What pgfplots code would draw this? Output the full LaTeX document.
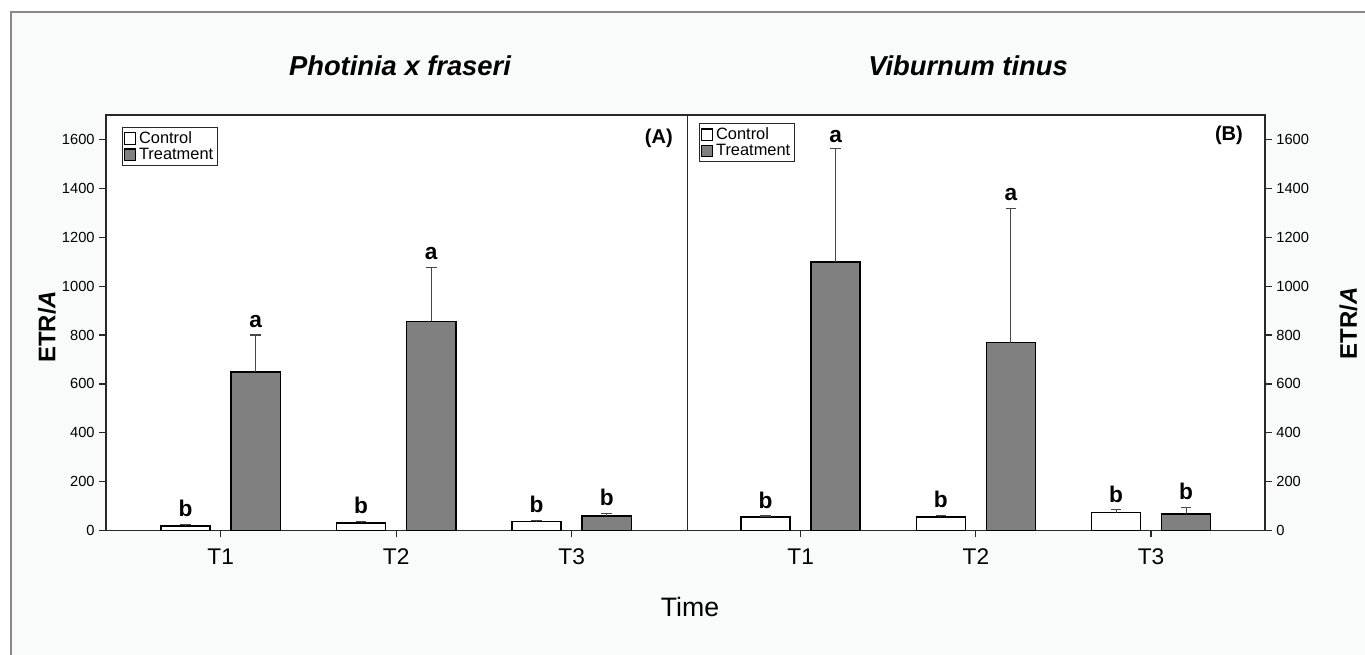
\documentclass[border=0pt]{standalone}
\usepackage{pgfplots}
\pgfplotsset{compat=1.18}
\usepackage{fontspec}
\setmainfont{Liberation Sans}
\definecolor{bargray}{RGB}{128,128,128}
\definecolor{framegray}{RGB}{135,135,135}
\definecolor{bgtint}{RGB}{248,251,250}
\definecolor{axcol}{RGB}{40,40,40}
\definecolor{errcol}{RGB}{70,70,70}

\tikzset{lett/.style={anchor=south, yshift=5.5pt, inner sep=0pt, font=\bfseries\fontsize{17}{19}\selectfont}}

\pgfplotsset{
  panel/.style={
    scale only axis, height=311.8pt,
    ymin=0, ymax=1700,
    ytick={0,200,...,1600},
    xtick={1,2,3}, xticklabels={T1,T2,T3},
    tick align=outside, major tick length=5pt,
    xtick pos=bottom,
    axis line style={line width=1.1pt, color=axcol},
    tick style={line width=0.9pt, color=axcol},
    /pgf/number format/assume math mode=true,
    /pgf/number format/1000 sep={},
    scaled y ticks=false,
    yticklabel style={font=\fontsize{11}{12}\selectfont},
    xticklabel style={font=\fontsize{17}{20}\selectfont, yshift=-5pt},
    axis background/.style={fill=white},
    ybar, bar width=0.28,
    legend cell align=left,
    legend style={draw=axcol, line width=0.8pt, font=\fontsize{12.3}{13}\selectfont,
      inner sep=1pt, row sep=-2pt, fill=white},
    clip=false,
  },
  ctrl/.style={fill=white, draw=black, line width=1.2pt, bar shift=-0.2,
    legend image code/.code={\draw[fill=white, draw=black, line width=0.8pt] (0pt,-4.3pt) rectangle (8.6pt,4.3pt);},
    error bars/.cd, y dir=plus, y explicit,
    error bar style={line width=0.8pt, errcol},
    error mark options={rotate=90, mark size=4pt, line width=0.9pt, errcol}},
  trt/.style={fill=bargray, draw=black, line width=1.2pt, bar shift=0.2,
    legend image code/.code={\draw[fill=bargray, draw=black, line width=0.8pt] (0pt,-4.3pt) rectangle (8.6pt,4.3pt);},
    error bars/.cd, y dir=plus, y explicit,
    error bar style={line width=0.8pt, errcol},
    error mark options={rotate=90, mark size=4pt, line width=0.9pt, errcol}},
}

\begin{document}
\begin{tikzpicture}[x=0.75pt, y=-0.75pt]
\path[use as bounding box] (0,0) rectangle (1365,655);
\begin{scope}
\clip (0,0) rectangle (1365,655);
\draw[framegray, line width=1.8pt, fill=bgtint] (11,12) rectangle (1385,675);
\end{scope}

% Panel A
\begin{axis}[panel, at={(79.5pt,-398.0pt)}, anchor=south west, width=436.1pt,
  xmin=0.3465, xmax=3.66,
  legend style={at={(0.0275,0.971)}, anchor=north west}]
\addplot[ctrl] coordinates {(1,20) +- (0,6) (2,31) +- (0,7) (3,37) +- (0,6)};
\addplot[trt] coordinates {(1,649) +- (0,151) (2,856) +- (0,221) (3,60) +- (0,11)};
\legend{Control,Treatment}
\node[lett] at (axis cs:0.8,26) {b};
\node[lett] at (axis cs:1.8,38) {b};
\node[lett] at (axis cs:2.8,43) {b};
\node[lett] at (axis cs:1.2,800) {a};
\node[lett] at (axis cs:2.2,1077) {a};
\node[lett] at (axis cs:3.2,71) {b};
\node[anchor=east, inner sep=0pt, font=\bfseries\fontsize{15}{17}\selectfont] at (rel axis cs:0.975,0.944) {(A)};
\end{axis}

% Panel B
\begin{axis}[panel, at={(515.625pt,-398.0pt)}, anchor=south west, width=433.1pt,
  xmin=0.354, xmax=3.65,
  ytick pos=right, yticklabel pos=right,
  legend style={at={(0.02,0.98)}, anchor=north west}]
\addplot[ctrl] coordinates {(1,55) +- (0,5) (2,57) +- (0,4) (3,74) +- (0,11)};
\addplot[trt] coordinates {(1,1098) +- (0,466) (2,769) +- (0,550) (3,68) +- (0,28)};
\legend{Control,Treatment}
\node[lett] at (axis cs:0.8,60) {b};
\node[lett] at (axis cs:1.8,61) {b};
\node[lett] at (axis cs:2.8,85) {b};
\node[lett, yshift=-1.5pt] at (axis cs:1.2,1564) {a};
\node[lett] at (axis cs:2.2,1319) {a};
\node[lett] at (axis cs:3.2,96) {b};
\node[anchor=east, inner sep=0pt, font=\bfseries\fontsize{15}{17}\selectfont] at (rel axis cs:0.962,0.952) {(B)};
\end{axis}

% Titles and labels
\node[font=\bfseries\itshape\fontsize{20.5}{24}\selectfont] at (400,66) {Photinia x fraseri};
\node[font=\bfseries\itshape\fontsize{20.5}{24}\selectfont] at (968,66) {Viburnum tinus};
\node[font=\fontsize{20}{24}\selectfont] at (690,607) {Time};
\node[rotate=90, font=\bfseries\fontsize{18}{21}\selectfont] at (47,327) {ETR/\textit{A}};
\node[rotate=90, font=\bfseries\fontsize{18}{21}\selectfont] at (1348.5,323.5) {ETR/\textit{A}};
\end{tikzpicture}
\end{document}
